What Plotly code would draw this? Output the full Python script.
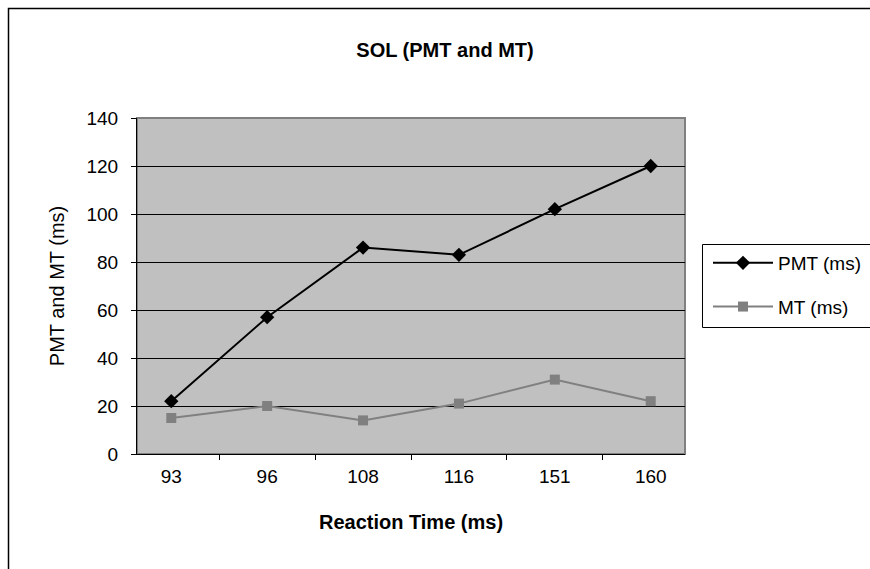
import plotly.graph_objects as go

categories = ["93", "96", "108", "116", "151", "160"]
pmt = [22, 57, 86, 83, 102, 120]
mt = [15, 20, 14, 21, 31, 22]

FONT = "Liberation Sans, Arial, sans-serif"

fig = go.Figure()
fig.add_trace(go.Scatter(
    x=categories, y=pmt, name="PMT (ms)", mode="lines+markers",
    line=dict(color="#000000", width=2),
    marker=dict(symbol="diamond", size=11, color="#000000"),
    legendgroup="a",
))
fig.add_trace(go.Scatter(
    x=categories, y=mt, name="MT (ms)", mode="lines+markers",
    line=dict(color="#808080", width=2),
    marker=dict(symbol="square", size=10, color="#808080"),
    legendgroup="b",
))

L, R, T, B = 137, 185, 118, 115
W, H = 870, 569
pw, ph = W - L - R, H - T - B

def px(x):
    return (x - L) / pw

def py(y):
    return (H - B - y) / ph

fig.update_layout(
    width=W, height=H,
    margin=dict(l=L, r=R, t=T, b=B, autoexpand=False),
    paper_bgcolor="white",
    plot_bgcolor="#C0C0C0",
    font=dict(family=FONT, size=19, color="#000000"),
    title=dict(text="<b>SOL (PMT and MT)</b>", x=445 / W, xanchor="center",
               y=1 - 50 / H, yanchor="middle", font=dict(size=20)),
    showlegend=True,
    legend=dict(
        x=px(708), xanchor="left", y=py(244), yanchor="top",
        borderwidth=0, bgcolor="rgba(0,0,0,0)",
        tracegroupgap=16, font=dict(size=19), itemwidth=60,
    ),
    xaxis=dict(
        type="category", showgrid=False, showline=True, linecolor="#000000",
        linewidth=1, ticks="outside", ticklen=5, tickcolor="#000000",
        tickson="boundaries", ticklabelstandoff=5,
        title=dict(text="<b>Reaction Time (ms)</b>", standoff=29,
                   font=dict(size=20)),
        layer="above traces",
    ),
    yaxis=dict(
        range=[0, 140], dtick=20, showgrid=True, gridcolor="#000000",
        gridwidth=1, showline=True, linecolor="#000000", linewidth=1,
        ticks="outside", ticklen=5, tickcolor="#000000", zeroline=False,
        ticklabelstandoff=9,
        title=dict(text="PMT and MT (ms)", standoff=16, font=dict(size=20)),
        layer="above traces",
    ),
    shapes=[
        dict(type="rect", xref="paper", yref="paper", x0=0, x1=1, y0=0, y1=1,
             line=dict(color="#808080", width=2), layer="below"),
        dict(type="rect", xref="paper", yref="paper",
             x0=px(8.5), x1=px(900), y0=py(8.5), y1=py(600),
             line=dict(color="#000000", width=1.5), layer="below"),
        # legend frame (runs past the right edge, as in the source)
        dict(type="rect", xref="paper", yref="paper",
             x0=px(702.5), x1=px(890), y0=py(244.5), y1=py(327.5),
             line=dict(color="#000000", width=1), fillcolor="white",
             layer="below"),
    ],
)

fig.write_html("out.html")
